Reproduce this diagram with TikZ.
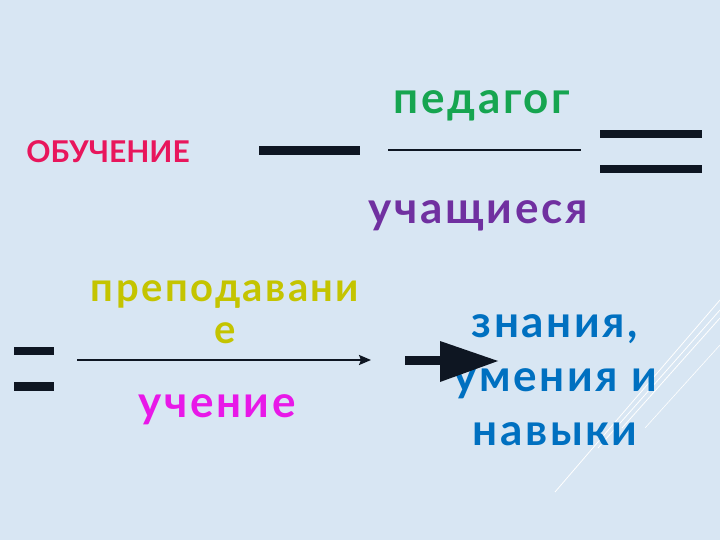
\documentclass[tikz,border=0pt]{standalone}
\usepackage{fontspec}
\setmainfont{Lato}
\newfontfamily\widelato{Lato}[LetterSpace=6]
\usepackage{tikz}
\usetikzlibrary{arrows.meta}

\definecolor{bgblue}{RGB}{216,230,243}
\definecolor{obred}{RGB}{232,22,92}
\definecolor{pedgreen}{RGB}{22,165,80}
\definecolor{uchpurple}{RGB}{112,48,160}
\definecolor{prepyellow}{RGB}{196,196,0}
\definecolor{uchmagenta}{RGB}{232,24,232}
\definecolor{znblue}{RGB}{0,112,192}
\definecolor{barblack}{RGB}{14,22,34}

\tikzset{
	word/.style={font=\widelato\bfseries\fontsize{44}{54}\selectfont, inner sep=0pt, align=center},
	bar/.style={barblack, line width=8.5pt},
}

\begin{document}
\begin{tikzpicture}[x=1pt,y=-1pt]
	\fill[bgblue] (0,0) rectangle (720,540);
	\useasboundingbox (0,0) rectangle (720,540);
	% white streaks, lower right
	\draw[white, line width=0.8pt] (720,300) -- (555,492);
	\draw[white, line width=0.8pt] (720,310) -- (598,448);
	\draw[white, line width=0.8pt] (720,318) -- (622,428);
	\draw[white, line width=0.6pt] (720,345) -- (645,428);
	% texts
	\draw (108,152) node(ob) [word, obred, font=\bfseries\fontsize{30}{36}\selectfont] {ОБУЧЕНИЕ};
	\draw (482,106) node(ped) [word, pedgreen] {педагог};
	\draw (478,216) node(uch) [word, uchpurple] {учащиеся};
	\draw (225,312) node(prep) [word, prepyellow, font=\widelato\bfseries\fontsize{40}{42}\selectfont] {преподавани\\е};
	\draw (217,410) node(ucen) [word, uchmagenta] {учение};
	\draw (555,380) node(zn) [word, znblue] {знания,\\умения и\\навыки};
	% dash and fraction line
	\coordinate (d1) at (259,150.5);
	\coordinate (d2) at (360,150.5);
	\draw[bar] (d1) -- (d2);
	\coordinate (f1) at (388,150);
	\coordinate (f2) at (581,150);
	\draw[barblack, line width=2.6pt] (f1) -- (f2);
	% right equals
	\coordinate (e1) at (600,134);
	\coordinate (e2) at (702,134);
	\coordinate (e3) at (600,169);
	\coordinate (e4) at (702,169);
	\draw[bar] (e1) -- (e2);
	\draw[bar] (e3) -- (e4);
	% left equals
	\coordinate (l1) at (14,351);
	\coordinate (l2) at (54,351);
	\coordinate (l3) at (14,386.5);
	\coordinate (l4) at (54,386.5);
	\draw[bar] (l1) -- (l2);
	\draw[bar] (l3) -- (l4);
	% arrow fraction line
	\coordinate (a1) at (77,360);
	\coordinate (a2) at (371,360);
	\draw[barblack, line width=2pt, -{Stealth[length=12pt, width=10pt, inset=2pt]}] (a1) -- (a2);
	% big arrow
	\coordinate (b1) at (405,360.5);
	\coordinate (b2) at (442,360.5);
	\draw[barblack, line width=9pt] (b1) -- (b2);
	\fill[barblack] (440,341) -- (498,361) -- (440,382) -- cycle;
\end{tikzpicture}
\end{document}
